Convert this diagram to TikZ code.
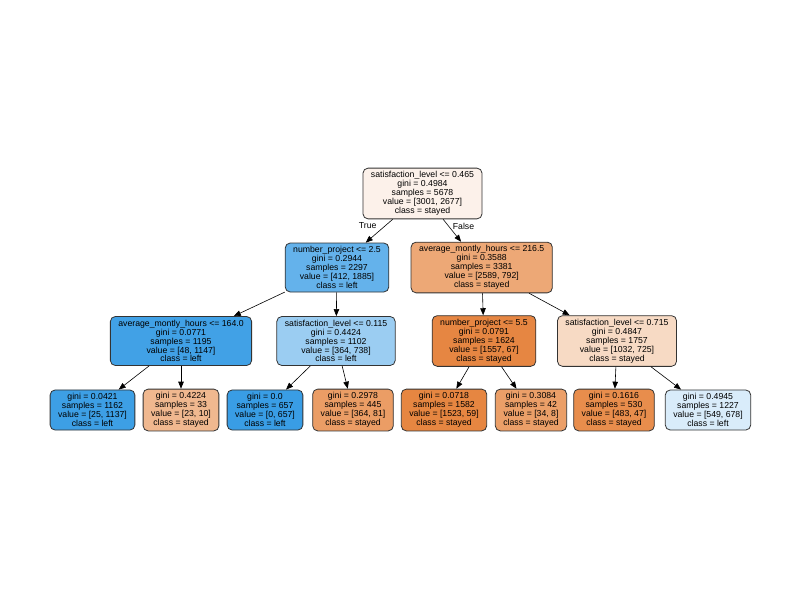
\documentclass[tikz,border=0pt]{standalone}
\usepackage{fontspec}
\setmainfont{Liberation Sans}
\usepackage{xcolor}
\usetikzlibrary{arrows.meta,shapes}

\definecolor{cR}{HTML}{FCF1EA}
\definecolor{cNPa}{HTML}{64B2EB}
\definecolor{cAMHa}{HTML}{EDA876}
\definecolor{cAMHb}{HTML}{41A1E6}
\definecolor{cSLa}{HTML}{9BCDF2}
\definecolor{cNPb}{HTML}{E68642}
\definecolor{cSLb}{HTML}{F7DAC4}
\definecolor{cLa}{HTML}{3D9FE5}
\definecolor{cLb}{HTML}{F0B88F}
\definecolor{cLc}{HTML}{399DE5}
\definecolor{cLd}{HTML}{EB9D65}
\definecolor{cLe}{HTML}{E68641}
\definecolor{cLf}{HTML}{EB9F68}
\definecolor{cLg}{HTML}{E88D4C}
\definecolor{cLh}{HTML}{D9ECFA}

\begin{document}
\begin{tikzpicture}[x=1pt,y=-1pt,
    boite/.style={draw=black!80,line width=0.8pt,rounded corners=5pt,align=center,
      font=\fontsize{8.7}{8.9}\selectfont,inner xsep=8pt,inner ysep=3.5pt}]
        \useasboundingbox[fill=white] (0,0) rectangle (800,600);
        \node[boite,fill=cR] (R) at (422.5,193.5) {satisfaction\_level <= 0.465\\gini = 0.4984\\samples = 5678\\value = [3001, 2677]\\class = stayed};
        \node[boite,fill=cNPa] (NPa) at (337,267.5) {number\_project <= 2.5\\gini = 0.2944\\samples = 2297\\value = [412, 1885]\\class = left};
        \node[boite,fill=cAMHa] (AMHa) at (481.7,267.5) {average\_montly\_hours <= 216.5\\gini = 0.3588\\samples = 3381\\value = [2589, 792]\\class = stayed};
        \node[boite,fill=cAMHb] (AMHb) at (181,341) {average\_montly\_hours <= 164.0\\gini = 0.0771\\samples = 1195\\value = [48, 1147]\\class = left};
        \node[boite,fill=cSLa] (SLa) at (336,341) {satisfaction\_level <= 0.115\\gini = 0.4424\\samples = 1102\\value = [364, 738]\\class = left};
        \node[boite,fill=cNPb] (NPb) at (484,341) {number\_project <= 5.5\\gini = 0.0791\\samples = 1624\\value = [1557, 67]\\class = stayed};
        \node[boite,fill=cSLb] (SLb) at (617,341) {satisfaction\_level <= 0.715\\gini = 0.4847\\samples = 1757\\value = [1032, 725]\\class = stayed};
        \node[boite,fill=cLa] (La) at (92.5,410) {gini = 0.0421\\samples = 1162\\value = [25, 1137]\\class = left};
        \node[boite,fill=cLb] (Lb) at (181,410) {gini = 0.4224\\samples = 33\\value = [23, 10]\\class = stayed};
        \node[boite,fill=cLc] (Lc) at (265,410) {gini = 0.0\\samples = 657\\value = [0, 657]\\class = left};
        \node[boite,fill=cLd] (Ld) at (353,410) {gini = 0.2978\\samples = 445\\value = [364, 81]\\class = stayed};
        \node[boite,fill=cLe] (Le) at (444,410) {gini = 0.0718\\samples = 1582\\value = [1523, 59]\\class = stayed};
        \node[boite,fill=cLf] (Lf) at (531,410) {gini = 0.3084\\samples = 42\\value = [34, 8]\\class = stayed};
        \node[boite,fill=cLg] (Lg) at (614,410) {gini = 0.1616\\samples = 530\\value = [483, 47]\\class = stayed};
        \node[boite,fill=cLh] (Lh) at (708,410) {gini = 0.4945\\samples = 1227\\value = [549, 678]\\class = left};
        \tikzset{fleche/.style={-{Triangle[length=7pt,width=5.5pt]},line width=0.6pt}}
        \draw[fleche] (R) -- (NPa);
        \draw[fleche] (R) -- (AMHa);
        \draw[fleche] (NPa) -- (AMHb);
        \draw[fleche] (NPa) -- (SLa);
        \draw[fleche] (AMHa) -- (NPb);
        \draw[fleche] (AMHa) -- (SLb);
        \draw[fleche] (AMHb) -- (La);
        \draw[fleche] (AMHb) -- (Lb);
        \draw[fleche] (SLa) -- (Lc);
        \draw[fleche] (SLa) -- (Ld);
        \draw[fleche] (NPb) -- (Le);
        \draw[fleche] (NPb) -- (Lf);
        \draw[fleche] (SLb) -- (Lg);
        \draw[fleche] (SLb) -- (Lh);
        \node[font=\fontsize{8.7}{8.9}\selectfont] (T) at (367.7,226) {True};
        \node[font=\fontsize{8.7}{8.9}\selectfont] (F) at (463.5,226) {False};
        \end{tikzpicture}
\end{document}
